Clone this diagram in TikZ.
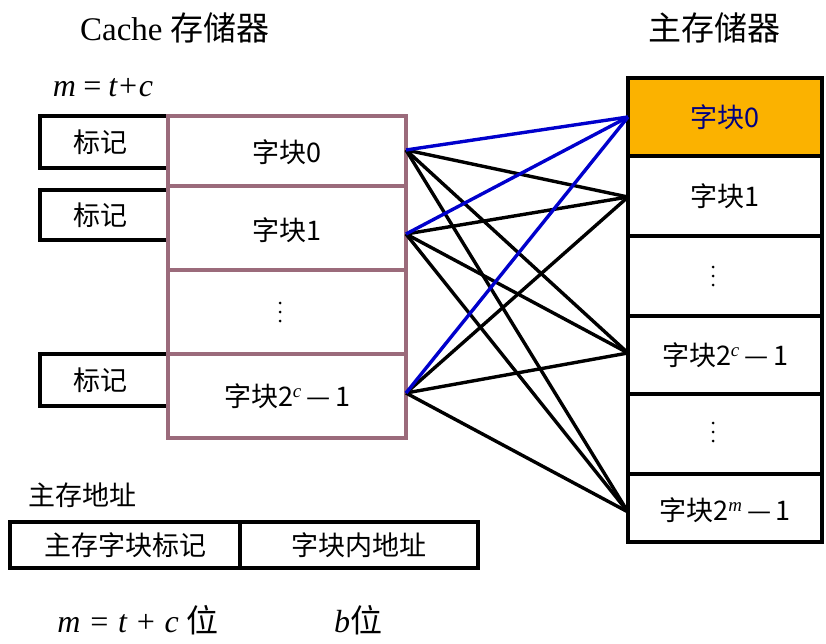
\documentclass[tikz,border=0pt]{standalone}
\usepackage{fontspec}
\setmainfont{Liberation Serif}
\newfontfamily\cjk{Noto Sans CJK SC}
\begin{document}
\begin{tikzpicture}[x=1pt,y=-1pt,
  box/.style={draw=black,line width=3.5pt},
  cb/.style={draw=cbc,line width=3.5pt},
  t/.style={font=\cjk\fontsize{27}{30}\selectfont},
  bl/.style={line width=3.4pt,draw=black},
  bu/.style={line width=3.4pt,draw=blue!80!black},
  vd/.pic={\foreach \k in {-9,0,9} \fill (0,\k) circle (1.5);}]
\definecolor{cbc}{HTML}{9B6B7B}
\definecolor{amber}{HTML}{FBB200}
\useasboundingbox (0,0) rectangle (826,644);
% tags
\draw[box] (40,116) rectangle (168,168); \node[t] (g0) at (100,142) {标记};
\draw[box] (40,190) rectangle (168,240); \node[t] (g1) at (100,215) {标记};
\draw[box] (40,354) rectangle (168,406); \node[t] (g2) at (100,380) {标记};
% cache
\foreach \a/\b in {116/186,186/270,270/354,354/438} \draw[cb] (168,\a) rectangle (406,\b);
\node[t] (c0) at (287,152) {字块0};
\node[t] (c1) at (287,230) {字块1};
\pic at (280,312) {vd};
\node[t] (c2) at (287,396) {字块2\textsuperscript{\rmfamily\itshape c}\,—\,1};
% memory
\fill[amber] (628,78) rectangle (822,156);
\foreach \a/\b in {78/156,156/236,236/316,316/394,394/474,474/542} \draw[box] (628,\a) rectangle (822,\b);
\node[t,text=blue!50!black] (m0) at (725,117) {字块0};
\node[t] (m1) at (725,196) {字块1};
\pic at (713,276) {vd};
\node[t] (m2) at (725,355) {字块2\textsuperscript{\rmfamily\itshape c}\,—\,1};
\pic at (713,432) {vd};
\node[t] (m3) at (725,510) {字块2\textsuperscript{\rmfamily\itshape m}\,—\,1};
% connectors
\coordinate (a0) at (406,150); \coordinate (a1) at (406,234); \coordinate (a2) at (406,393);
\coordinate (b0) at (628,117); \coordinate (b1) at (628,197); \coordinate (b2) at (628,353); \coordinate (b3) at (628,512);
\foreach \s in {a0,a1,a2} \foreach \e in {b1,b2,b3} \draw[bl] (\s)--(\e);
\foreach \s in {a0,a1,a2} \draw[bu] (\s)--(b0);
% titles
\node[font=\fontsize{33}{36}\selectfont] (tc) at (175,28) {Cache {\cjk 存储器}};
\node[t,font=\cjk\fontsize{33}{36}\selectfont] (tm) at (714,28) {主存储器};
\node[font=\fontsize{32}{34}\selectfont\itshape] (mt) at (103,88) {m\,=\,t+c};
\node[t] (addr) at (82,495) {主存地址};
\draw[box] (10,522) rectangle (240,568); \draw[box] (240,522) rectangle (478,568);
\node[t] (f1) at (125,545) {主存字块标记};
\node[t] (f2) at (359,545) {字块内地址};
\node[font=\fontsize{32}{34}\selectfont] (l1) at (138,620) {\itshape m = t + c {\upshape\cjk 位}};
\node[font=\fontsize{32}{34}\selectfont] (l2) at (358,620) {\itshape b{\upshape\cjk 位}};
\end{tikzpicture}
\end{document}
